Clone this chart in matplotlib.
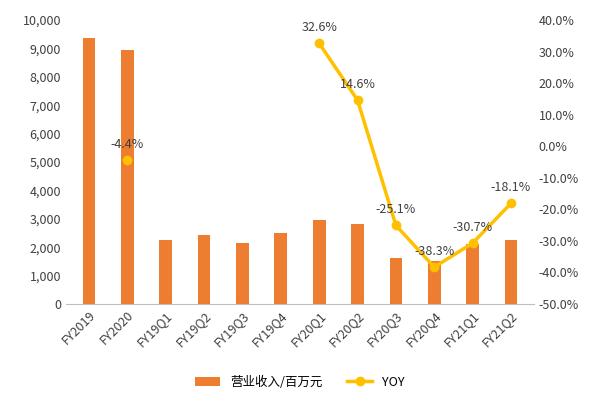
import numpy as np
import matplotlib
matplotlib.use("Agg")
import matplotlib.pyplot as plt
from matplotlib.ticker import FuncFormatter

plt.rcParams['font.family'] = ['Noto Sans CJK SC', 'DejaVu Sans']

periods = ["FY2019", "FY2020", "FY19Q1", "FY19Q2", "FY19Q3", "FY19Q4",
           "FY20Q1", "FY20Q2", "FY20Q3", "FY20Q4", "FY21Q1", "FY21Q2"]
revenue = [9350, 8950, 2250, 2430, 2150, 2500, 2950, 2800, 1620, 1520, 2130, 2260]
yoy = [np.nan, -4.4, np.nan, np.nan, np.nan, np.nan,
       32.6, 14.6, -25.1, -38.3, -30.7, -18.1]

bar_color = "#ED7D31"
line_color = "#FFC000"

fig, ax = plt.subplots(figsize=(6, 4), dpi=100)
x = np.arange(len(periods))
ax.bar(x, revenue, width=0.33, color=bar_color, label="营业收入/百万元")
ax.set_ylim(0, 10000)
ax.set_yticks(range(0, 10001, 1000))
ax.yaxis.set_major_formatter(FuncFormatter(lambda v, p: f"{int(v):,}"))
ax.set_xlim(-0.6, len(periods) - 0.4)
ax.set_xticks(x)
ax.set_xticklabels(periods, rotation=45, ha="right", rotation_mode="anchor")
ax.tick_params(length=0, labelsize=9, colors="#404040")
for s in ["top", "right", "left"]:
    ax.spines[s].set_visible(False)
ax.spines["bottom"].set_color("#bfbfbf")

ax2 = ax.twinx()
yoy_arr = np.array(yoy)
ax2.plot(x[6:], yoy_arr[6:], color=line_color, lw=2.5, marker="o", ms=6, label="YOY")
ax2.plot(x[1], yoy_arr[1], color=line_color, marker="o", ms=6)
ax2.set_ylim(-50, 40)
ax2.set_yticks(range(-50, 41, 10))
ax2.yaxis.set_major_formatter(FuncFormatter(lambda v, p: f"{v:.1f}%"))
ax2.tick_params(length=0, labelsize=9, colors="#404040")
for s in ax2.spines.values():
    s.set_visible(False)
for xi, v in zip(x, yoy_arr):
    if not np.isnan(v):
        ax2.text(xi, v + 3, f"{v:.1f}%", ha="center", va="bottom", fontsize=9, color="#404040")

h1, l1 = ax.get_legend_handles_labels()
h2, l2 = ax2.get_legend_handles_labels()
fig.legend(h1 + h2, l1 + l2, loc="lower center", ncol=2, frameon=False,
           fontsize=9, bbox_to_anchor=(0.5, 0.0))
fig.subplots_adjust(left=0.11, right=0.89, top=0.95, bottom=0.24)
fig.savefig("out.png", dpi=100)
